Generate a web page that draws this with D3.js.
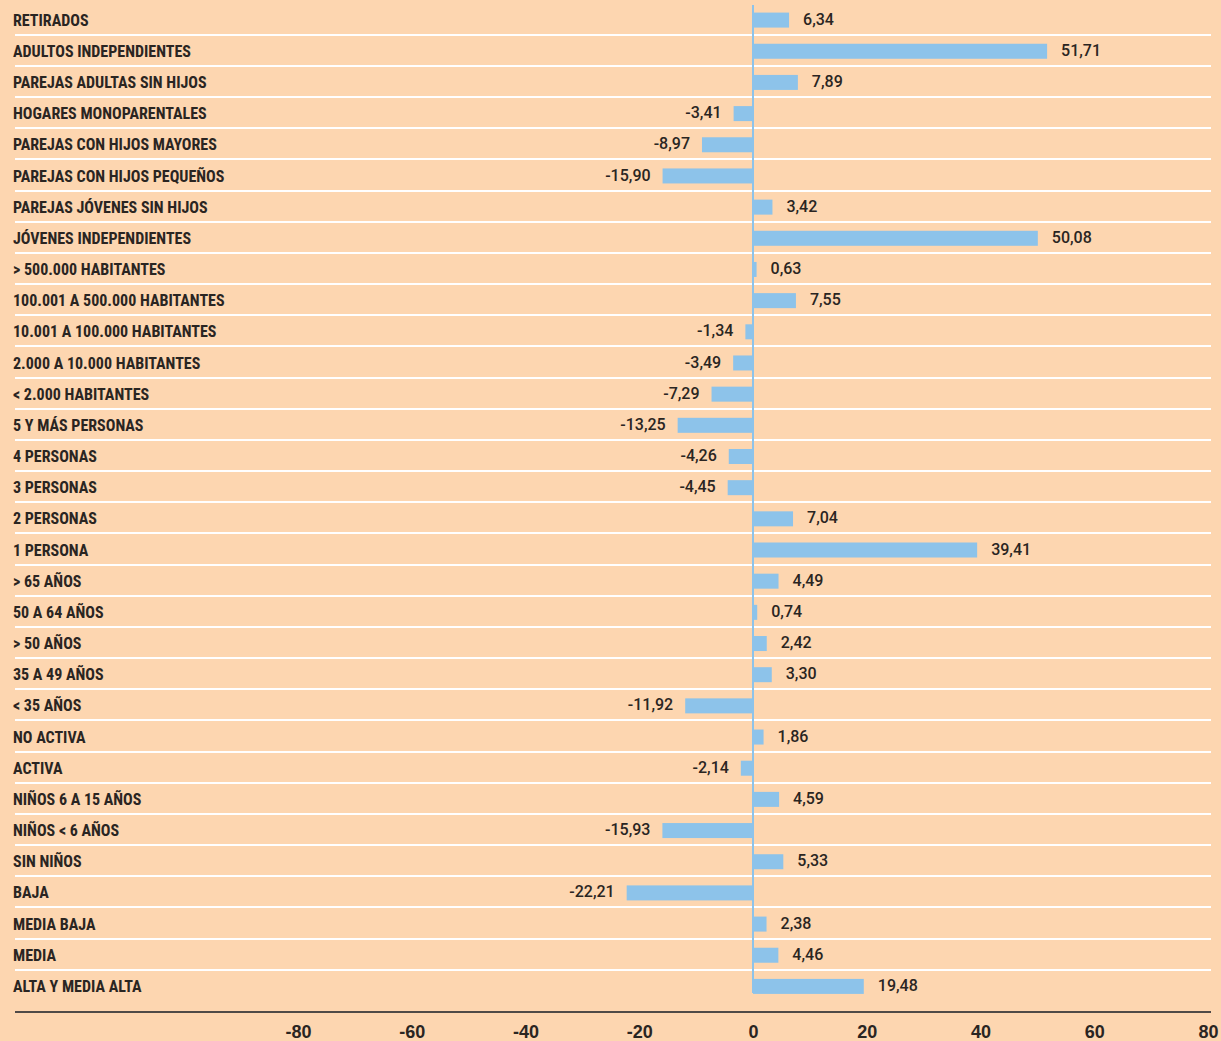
<!DOCTYPE html>
<html>
<head>
<meta charset="utf-8">
<script src="https://cdn.jsdelivr.net/npm/d3@7"></script>
<style>
  body { margin: 0; background: #fdd6b0; }
  svg { display: block; }
  .cat { font-family: "Liberation Sans Narrow", "Roboto Condensed", "Arial Narrow", sans-serif; font-weight: bold; font-size: 16px; fill: #2a2522; }
  .val { font-family: Roboto, "Liberation Sans", Arial, sans-serif; font-weight: 500; font-size: 16px; fill: #2a2522; }
  .tick text { font-family: "Liberation Sans Narrow", "Arial Narrow", sans-serif; font-weight: bold; font-size: 18px; fill: #2a2522; }
</style>
</head>
<body>
<script>
const categories = [
  'RETIRADOS', 'ADULTOS INDEPENDIENTES', 'PAREJAS ADULTAS SIN HIJOS', 'HOGARES MONOPARENTALES',
  'PAREJAS CON HIJOS MAYORES', 'PAREJAS CON HIJOS PEQUEÑOS', 'PAREJAS JÓVENES SIN HIJOS',
  'JÓVENES INDEPENDIENTES', '> 500.000 HABITANTES', '100.001 A 500.000 HABITANTES',
  '10.001 A 100.000 HABITANTES', '2.000 A 10.000 HABITANTES', '< 2.000 HABITANTES',
  '5 Y MÁS PERSONAS', '4 PERSONAS', '3 PERSONAS', '2 PERSONAS', '1 PERSONA',
  '> 65 AÑOS', '50 A 64 AÑOS', '> 50 AÑOS', '35 A 49 AÑOS', '< 35 AÑOS',
  'NO ACTIVA', 'ACTIVA', 'NIÑOS 6 A 15 AÑOS', 'NIÑOS < 6 AÑOS', 'SIN NIÑOS',
  'BAJA', 'MEDIA BAJA', 'MEDIA', 'ALTA Y MEDIA ALTA'
]
const values = [
  6.34, 51.71, 7.89, -3.41, -8.97, -15.90, 3.42, 50.08, 0.63, 7.55,
  -1.34, -3.49, -7.29, -13.25, -4.26, -4.45, 7.04, 39.41,
  4.49, 0.74, 2.42, 3.30, -11.92, 1.86, -2.14, 4.59, -15.93, 5.33,
  -22.21, 2.38, 4.46, 19.48
]
const tickValues = [-80, -60, -40, -20, 0, 20, 40, 60, 80]

const width = 1221, height = 1041
const data = categories.map((c, i) => ({ cat: c, value: values[i] }))

const svg = d3.select('body').append('svg')
  .attr('width', width).attr('height', height)

svg.append('rect').attr('width', width).attr('height', height).attr('fill', '#fdd6b0')

const x = d3.scaleLinear().domain([-80, 80]).range([298, 1208])
const y = d3.scaleBand().domain(categories).range([4.5, 1002]).paddingInner(0)

// row separators
svg.append('g').selectAll('line')
  .data(categories.slice(1))
  .join('line')
  .attr('x1', 15).attr('x2', 1211)
  .attr('y1', d => Math.round(y(d)) - 1).attr('y2', d => Math.round(y(d)) - 1)
  .attr('stroke', '#ffffff').attr('stroke-width', 2)

// category labels
svg.append('g').selectAll('text')
  .data(data)
  .join('text')
  .attr('class', 'cat')
  .attr('x', 13)
  .attr('y', d => y(d.cat) + y.bandwidth() / 2)
  .attr('dy', '0.35em')
  .text(d => d.cat)

// zero line
svg.append('line')
  .attr('x1', x(0)).attr('x2', x(0))
  .attr('y1', 5).attr('y2', 993)
  .attr('stroke', '#8dc3ea').attr('stroke-width', 2)

const barH = 15
svg.append('g').selectAll('rect')
  .data(data)
  .join('rect')
  .attr('x', d => Math.min(x(0), x(d.value)))
  .attr('width', d => Math.abs(x(d.value) - x(0)))
  .attr('y', d => y(d.cat) + y.bandwidth() / 2 - barH / 2)
  .attr('height', barH)
  .attr('fill', '#8dc3ea')

const fmt = v => d3.format('.2f')(v).replace('.', ',').replace('−', '-')
svg.append('g').selectAll('text')
  .data(data)
  .join('text')
  .attr('class', 'val')
  .attr('x', d => d.value >= 0 ? x(d.value) + 14 : x(d.value) - 12)
  .attr('y', d => y(d.cat) + y.bandwidth() / 2 - 1)
  .attr('dy', '0.35em')
  .attr('text-anchor', d => d.value >= 0 ? 'start' : 'end')
  .text(d => fmt(d.value))

// bottom axis
svg.append('line')
  .attr('x1', 15).attr('x2', 1211)
  .attr('y1', 1012).attr('y2', 1012)
  .attr('stroke', '#4f4a47').attr('stroke-width', 2)

const axis = d3.axisBottom(x).tickValues(tickValues).tickSize(0).tickPadding(0)
  .tickFormat(d => String(d))
const gAxis = svg.append('g').attr('transform', 'translate(0, 1025)').call(axis)
gAxis.select('.domain').remove()
gAxis.selectAll('.tick text').attr('dy', '0.71em')
</script>
</body>
</html>
